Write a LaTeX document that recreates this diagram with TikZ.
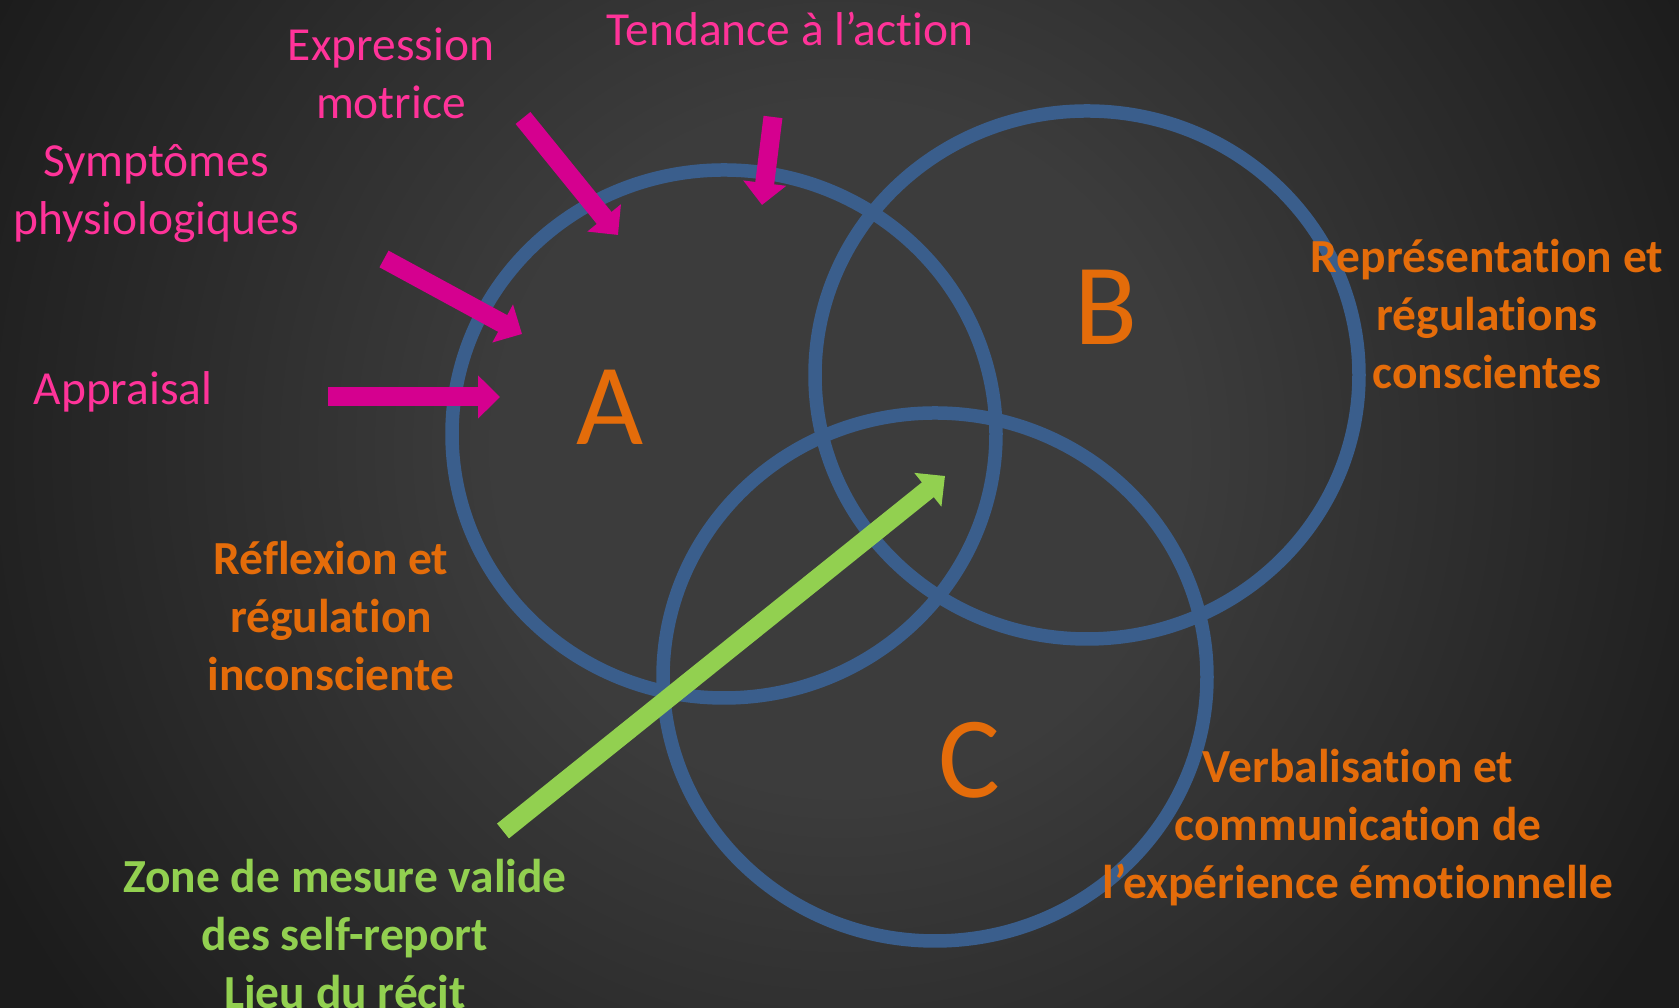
\documentclass[tikz,border=0pt]{standalone}
\usepackage{fontspec}
\setmainfont{Carlito}[Ligatures=NoCommon]
\usetikzlibrary{arrows.meta}

\definecolor{bgin}{HTML}{3C3C3C}
\definecolor{bgout}{HTML}{1C1C1C}
\definecolor{ringblue}{HTML}{3A5E8C}
\definecolor{arrowpink}{HTML}{D5008F}
\definecolor{labelpink}{HTML}{FF3399}
\definecolor{labelorange}{HTML}{E46C0A}
\definecolor{labelgreen}{HTML}{92D050}

% slide background: light middle, dark border
\pgfdeclareradialshading{slidebg}{\pgfpoint{0bp}{0bp}}{color(0bp)=(bgin); color(9bp)=(bgin); color(25bp)=(bgout); color(50bp)=(bgout)}

\tikzset{
  ring/.style={draw=ringblue, line width=0.135cm},
  blockarrow/.style={line width=0.19cm, -{Triangle[width=0.42cm,length=0.22cm]}},
  pinklabel/.style={text=labelpink, align=center, font=\fontsize{13.5}{16.5}\selectfont},
  orangelabel/.style={text=labelorange, align=center, font=\fontsize{13.5}{16.5}\selectfont\bfseries},
  greenlabel/.style={text=labelgreen, align=center, font=\fontsize{13.5}{16.5}\selectfont\bfseries},
  letter/.style={text=labelorange, font=\fontsize{33}{40}\selectfont},
}

\begin{document}
\begin{tikzpicture}
\useasboundingbox (0,0) rectangle (16.79,10.08);

% background
\fill[bgout] (0,0) rectangle (16.79,10.08);
\begin{scope}
\clip (0,0) rectangle (16.79,10.08);
\shade[shading=slidebg] (8.4,5.6) circle (9.5);
\end{scope}

% the three circles (slightly flattened)
\foreach \name/\cx/\cy in {A/7.24/5.74, B/10.87/6.33, C/9.35/3.31}
\draw[ring] (\cx,\cy) ellipse [x radius=2.72, y radius=2.64];

\node[letter] (A) at (6.10,6.01) {A};
\node[letter] (B) at (11.06,7.01) {B};
\node[letter] (C) at (9.69,2.48) {C};

% inputs to A
\node[pinklabel] (tendance) at (7.90,9.79) {Tendance à l’action};
\node[pinklabel] (expression) at (3.91,9.35) {Expression\\motrice};
\node[pinklabel] (symptomes) at (1.56,8.14) {Symptômes\\physiologiques};
\node[pinklabel] (appraisal) at (1.23,6.16) {Appraisal};

\coordinate (tendance tail) at (7.73,8.91);
\coordinate (tendance tip) at (7.62,8.03);
\coordinate (expression tail) at (5.23,8.90);
\coordinate (expression tip) at (6.18,7.73);
\coordinate (symptomes tail) at (3.84,7.49);
\coordinate (symptomes tip) at (5.22,6.74);
\coordinate (appraisal tail) at (3.28,6.11);
\coordinate (appraisal tip) at (5.00,6.11);

\foreach \src in {tendance,expression,symptomes,appraisal}
\draw[blockarrow, arrowpink] (\src\space tail) -- (\src\space tip);

% circle descriptions
\node[orangelabel] (reflexion) at (3.31,3.92) {Réflexion et\\régulation\\inconsciente};
\node[orangelabel] (representation) at (14.87,6.94) {Représentation et\\régulations\\conscientes};
\node[orangelabel] (verbalisation) at (13.58,1.80) {Verbalisation et\\communication de\\l’expérience émotionnelle};

% valid zone
\node[greenlabel] (zone) at (3.45,0.74) {Zone de mesure valide\\des self-report\\Lieu du récit};
\coordinate (zone tail) at (5.03,1.77);
\coordinate (zone tip) at (9.45,5.32);
\draw[blockarrow, labelgreen] (zone tail) -- (zone tip);

\end{tikzpicture}
\end{document}
